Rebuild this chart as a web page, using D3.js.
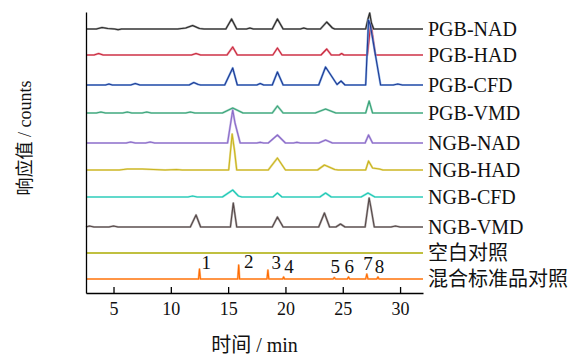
<!DOCTYPE html>
<html>
<head>
<meta charset="utf-8">
<script src="https://cdn.jsdelivr.net/npm/d3@7/dist/d3.min.js"></script>
<style>
  html, body { margin: 0; padding: 0; background: #fff; }
  svg { display: block; }
</style>
</head>
<body>
<svg id="chart" width="576" height="356"></svg>
<script>
// ---------------- DATA ----------------
const seriesNames = ["PGB-NAD", "PGB-HAD", "PGB-CFD", "PGB-VMD", "NGB-NAD", "NGB-HAD", "NGB-CFD", "NGB-VMD", "空白对照", "混合标准品对照"];
const seriesColors = ["#2a2a2a", "#c8283c", "#1f3a93", "#3aa37a", "#8a6cc8", "#c9b41e", "#1ec8b4", "#554848", "#a8a800", "#ff6a00"];
const haloColors = ["#888888", "#e88a98", "#6f9fe0", "#8fd0b4", "#b8a4e0", "#e2d47a", "#8ee6dc", "#a09898", "#d0d060", "#ffb070"];
// vertical offset of each trace (counts)
const seriesOffsets = [264, 238, 208, 180, 150, 123, 96, 66, 40, 14];

// [time (min), response (counts)]
const pgbNad = [[2.6,0],[3.5,0],[4.0,1.5],[4.5,0.5],[5.1,0],[5.4,-0.7],[5.7,0],[10.6,0],[11.3,1],[11.9,3.5],[12.5,0.5],[12.9,0],
  [14.8,0],[15.3,10],[15.75,0],[16.6,0],[16.9,1],[17.2,0],[18.85,0],[19.3,10],[19.8,0],[21.3,0],[21.6,1],[21.9,0],
  [23.05,0],[23.6,7],[24.1,1],[24.3,0],[27.0,0],[27.2,10],[27.35,16],[27.5,6],[27.7,0],[32,0]];
const pgbHad = [[2.6,0],[3.3,0],[3.7,1.5],[4.1,0],[11.8,0],[12.2,1.5],[12.6,0],[14.9,0],[15.4,8],[15.8,0],
  [18.9,0],[19.3,7],[19.7,0],[23.1,0],[23.6,6],[24.0,0],[24.7,0],[24.9,1.5],[25.1,0],[27.15,0],[27.45,32],[27.85,0],[32,0]];
const pgbCfd = [[2.6,0],[4.3,0],[4.6,1],[4.9,0],[6.5,0],[6.9,1.5],[7.3,0],[11.6,0],[12.0,2.5],[12.4,0.5],[12.6,0],
  [14.7,0],[15.4,17],[15.8,0],[17.5,0],[17.8,1.5],[18.1,0],[18.85,0],[19.3,13],[19.8,0],
  [22.9,0],[23.5,18],[24.5,0.5],[24.85,4],[25.2,0],[27.0,0],[27.25,65],[27.4,60],[28.3,0],[29.4,0],[29.8,1],[30.2,0],[32,0]];
const pgbVmd = [[2.6,0],[3.5,0],[3.9,1],[4.3,0],[5.8,0],[6.2,1],[6.6,0],[7.5,0],[7.9,1],[8.3,0],[11.3,0],[11.7,1],[12.1,0],
  [14.5,0],[15.4,5],[16.3,0],[18.85,0],[19.3,7],[19.8,0],[22.6,0],[23.5,4],[24.4,0],[27.0,0],[27.3,12],[27.6,0],[32,0]];
const ngbNad = [[2.6,0],[6.1,0],[6.5,1],[6.9,0],[7.8,0],[8.2,1],[8.6,0],[14.95,0],[15.4,33],[15.6,20],[16.05,0],
  [17.5,0],[17.8,0.7],[18.1,0],[18.5,0],[19.3,8],[20.0,0],[20.7,0],[21.0,0.7],[21.3,0],[22.9,0],[23.5,3],[24.1,0],
  [26.95,0],[27.25,8],[27.6,0],[32,0]];
const ngbHad = [[2.6,0],[5.5,0],[6.2,1],[7.5,1],[8.5,0.5],[9.5,0],[10.5,0.5],[11.0,0],[15.05,0],[15.35,36],[15.55,20],[15.75,0],
  [18.5,0],[19.3,12],[20.0,0],[22.8,0],[23.4,5],[24.3,0.5],[24.6,0],[27.0,0],[27.25,9],[27.6,2],[28.2,1],[28.5,0],[32,0]];
const ngbCfd = [[2.6,0],[11.5,0],[11.9,1],[12.3,0],[14.5,0],[15.4,7],[15.9,1],[16.2,0],[18.9,0],[19.3,4],[19.7,0],
  [23.0,0],[23.5,4],[24.0,0],[26.6,0],[27.2,4],[27.8,0],[32,0]];
const ngbVmd = [[2.6,0],[2.9,1],[3.3,0],[4.6,0],[5.0,1],[5.4,0],[11.7,0],[12.2,12],[12.6,0],[15.2,0],[15.45,24],[15.75,0],
  [18.85,0],[19.3,10],[19.8,0],[22.9,0],[23.4,14],[23.85,0],[24.4,0],[24.8,3],[25.2,0],
  [26.95,0],[27.3,29],[27.45,20],[27.75,0],[29.2,0],[29.6,1],[30.0,0],[32,0]];
const blank = [[2.6,0],[32,0]];
const mixStd = [[2.6,0],[12.42,0],[12.5,10],[12.58,0],[15.84,0],[15.92,14],[16.0,0],[18.39,0],[18.47,9],[18.55,0],
  [19.76,0],[19.84,2],[19.92,0],[24.16,0],[24.26,1.5],[24.36,0],[25.4,0],[25.5,2],[25.6,0],
  [27.0,0],[27.1,5],[27.2,0],[27.97,0],[28.07,2],[28.17,0],[32,0]];

const seriesData = [pgbNad, pgbHad, pgbCfd, pgbVmd, ngbNad, ngbHad, ngbCfd, ngbVmd, blank, mixStd];
// drawing order (bottom first)
const drawOrder = [9, 8, 7, 6, 3, 4, 5, 1, 0, 2];

// peak labels on the mixed standard trace
const peakLabels = ["1", "2", "3", "4", "5", "6", "7", "8"];
const peakLabelTimes = [13.1, 16.8, 19.2, 20.3, 24.35, 25.57, 27.2, 28.2];
const peakLabelCounts = [10, 10.7, 9.7, 5.7, 5.7, 5.7, 9, 6.3];

const xTicks = [5, 10, 15, 20, 25, 30];
const xDomain = [2.6, 32];
const yDomain = [0, 281];
const xTitle = "时间 / min";
const yTitle = "响应值 / counts";

// ---------------- CHART ----------------
const svg = d3.select("#chart");
const serif = "'Liberation Serif', 'Times New Roman', 'Noto Sans CJK SC', serif";
const plot = { left: 86, right: 423, top: 12, bottom: 293 };

const x = d3.scaleLinear().domain(xDomain).range([plot.left, plot.right]);
const y = d3.scaleLinear().domain(yDomain).range([plot.bottom, plot.top]);

const line = d3.line().x(d => x(d[0])).y(d => y(d[1]));

const traces = svg.append("g");
drawOrder.forEach(i => {
  const off = seriesOffsets[i];
  const pts = seriesData[i].map(p => [p[0], p[1] + off]);
  traces.append("path")
    .datum(pts)
    .attr("d", line)
    .attr("fill", "none")
    .attr("stroke", haloColors[i])
    .attr("stroke-width", 2.2)
    .attr("stroke-opacity", 0.8)
    .attr("stroke-linejoin", "round");
  traces.append("path")
    .datum(pts)
    .attr("d", line)
    .attr("fill", "none")
    .attr("stroke", seriesColors[i])
    .attr("stroke-width", 1.1)
    .attr("stroke-linejoin", "round");
});

// series labels
svg.append("g").selectAll("text")
  .data(seriesNames)
  .join("text")
  .attr("x", 428)
  .attr("y", (d, i) => y(seriesOffsets[i]) + 6.8)
  .attr("font-family", serif)
  .attr("font-size", 20)
  .attr("fill", "#111")
  .text(d => d);

// peak labels
svg.append("g").selectAll("text")
  .data(peakLabels)
  .join("text")
  .attr("x", (d, i) => x(peakLabelTimes[i]))
  .attr("y", (d, i) => y(seriesOffsets[9] + peakLabelCounts[i]))
  .attr("text-anchor", "middle")
  .attr("font-family", serif)
  .attr("font-size", 19)
  .attr("fill", "#111")
  .text(d => d);

// x axis (inward ticks)
const xAxis = d3.axisBottom(x).tickValues(xTicks).tickSizeInner(-6).tickSizeOuter(0).tickPadding(9);
const gx = svg.append("g").attr("transform", `translate(0,${plot.bottom})`).call(xAxis);
gx.select(".domain").attr("stroke", "#000").attr("stroke-width", 1.3);
gx.selectAll(".tick line").attr("stroke", "#000").attr("stroke-width", 1.3);
gx.selectAll(".tick text").attr("font-family", serif).attr("font-size", 18).attr("fill", "#111");

// y axis (line only)
const yAxis = d3.axisLeft(y).tickValues([]).tickSizeOuter(0);
const gy = svg.append("g").attr("transform", `translate(${plot.left},0)`).call(yAxis);
gy.select(".domain").attr("stroke", "#000").attr("stroke-width", 1.3);

// titles
svg.append("text")
  .attr("x", (plot.left + plot.right) / 2)
  .attr("y", 352)
  .attr("text-anchor", "middle")
  .attr("font-family", serif)
  .attr("font-size", 20)
  .attr("fill", "#111")
  .text(xTitle);

svg.append("text")
  .attr("transform", "translate(31,138) rotate(-90)")
  .attr("text-anchor", "middle")
  .attr("font-family", serif)
  .attr("font-size", 18)
  .attr("fill", "#111")
  .text(yTitle);
</script>
</body>
</html>
